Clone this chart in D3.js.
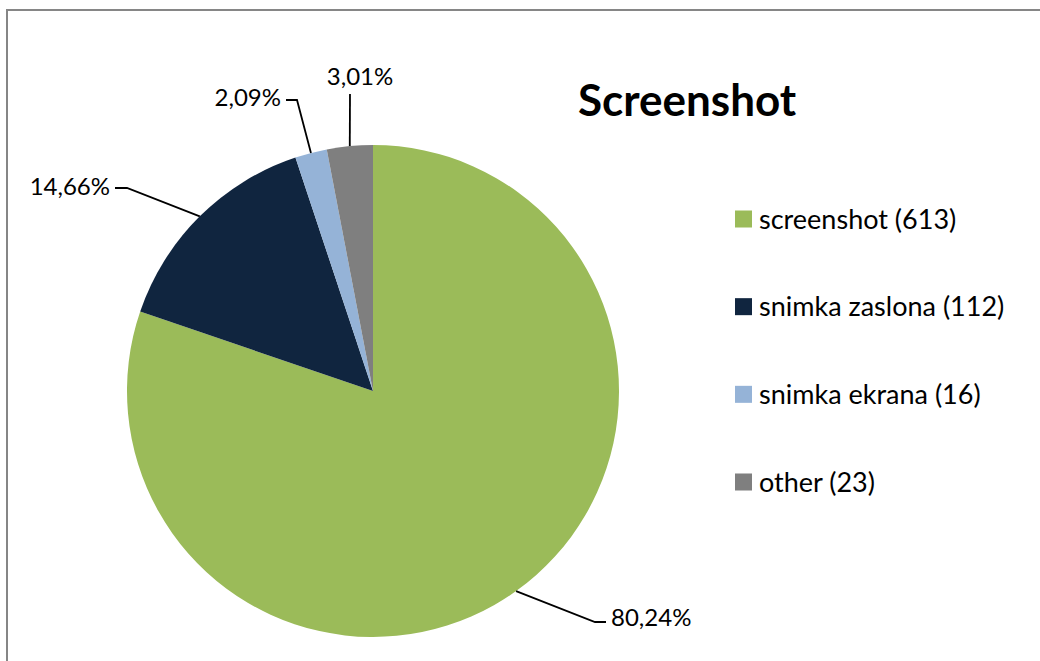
<!DOCTYPE html>
<html>
<head>
<meta charset="utf-8">
<script src="https://cdn.jsdelivr.net/npm/d3@7"></script>
<style>
  html, body { margin: 0; padding: 0; background: #fff; }
  svg { display: block; }
  text { font-family: Lato, "Open Sans", sans-serif; fill: #000; }
</style>
</head>
<body>
<svg id="chart" width="1040" height="661"></svg>
<script>
// ---- data ----
const categories = ["screenshot", "snimka zaslona", "snimka ekrana", "other"];
const counts = [613, 112, 16, 23];
const percentLabels = ["80,24%", "14,66%", "2,09%", "3,01%"];
const colors = ["#9BBB59", "#10253F", "#95B3D7", "#7F7F7F"];
const title = "Screenshot";

// ---- layout (not data) ----
const W = 1040, H = 661;
const cx = 373, cy = 391, R = 246;
// label anchors: elbow point, end of horizontal segment, text position & anchor
const labelLayout = [
  { elbow: [595, 622], end: [606, 622], tx: 611, ty: 626, anchor: "start" },
  { elbow: [127, 188], end: [115, 188], tx: 110, ty: 195, anchor: "end" },
  { elbow: [297, 100], end: [286, 100], tx: 281, ty: 106, anchor: "end" },
  { elbow: [350, 94],  end: [350, 94],  tx: 360, ty: 85,  anchor: "middle" }
];

const svg = d3.select("#chart");

// outer border
svg.append("rect")
  .attr("x", 7).attr("y", 10)
  .attr("width", W + 20).attr("height", H + 20)
  .attr("fill", "none")
  .attr("stroke", "#868686")
  .attr("stroke-width", 2);

const g = svg.append("g").attr("transform", `translate(${cx},${cy})`);

const pie = d3.pie().value(d => d).sort(null);
const arcs = pie(counts);
const arc = d3.arc().innerRadius(0).outerRadius(R);
const edgeArc = d3.arc().innerRadius(R).outerRadius(R);

g.selectAll("path.slice")
  .data(arcs)
  .enter().append("path")
  .attr("class", "slice")
  .attr("d", arc)
  .attr("fill", (d, i) => colors[i]);

// leader lines and labels
arcs.forEach((a, i) => {
  const c = edgeArc.centroid(a);
  const p0 = [cx + c[0], cy + c[1]];
  const L = labelLayout[i];
  svg.append("polyline")
    .attr("points", [p0, L.elbow, L.end].map(p => p.join(",")).join(" "))
    .attr("fill", "none")
    .attr("stroke", "#000")
    .attr("stroke-width", 1.8);
  svg.append("text")
    .attr("x", L.tx).attr("y", L.ty)
    .attr("text-anchor", L.anchor)
    .attr("font-size", 24)
    .text(percentLabels[i]);
});

// title
svg.append("text")
  .attr("x", 578).attr("y", 116)
  .attr("font-size", 44)
  .attr("font-weight", 700)
  .text(title);

// legend
const legendY = d3.scalePoint().domain(categories).range([219, 482]);
const leg = svg.append("g");
categories.forEach((cat, i) => {
  const y = legendY(cat);
  leg.append("rect")
    .attr("x", 735).attr("y", y - 8.5)
    .attr("width", 17).attr("height", 17)
    .attr("fill", colors[i]);
  leg.append("text")
    .attr("x", 759).attr("y", y + 9.5)
    .attr("font-size", 27)
    .text(`${cat} (${counts[i]})`);
});
</script>
</body>
</html>
